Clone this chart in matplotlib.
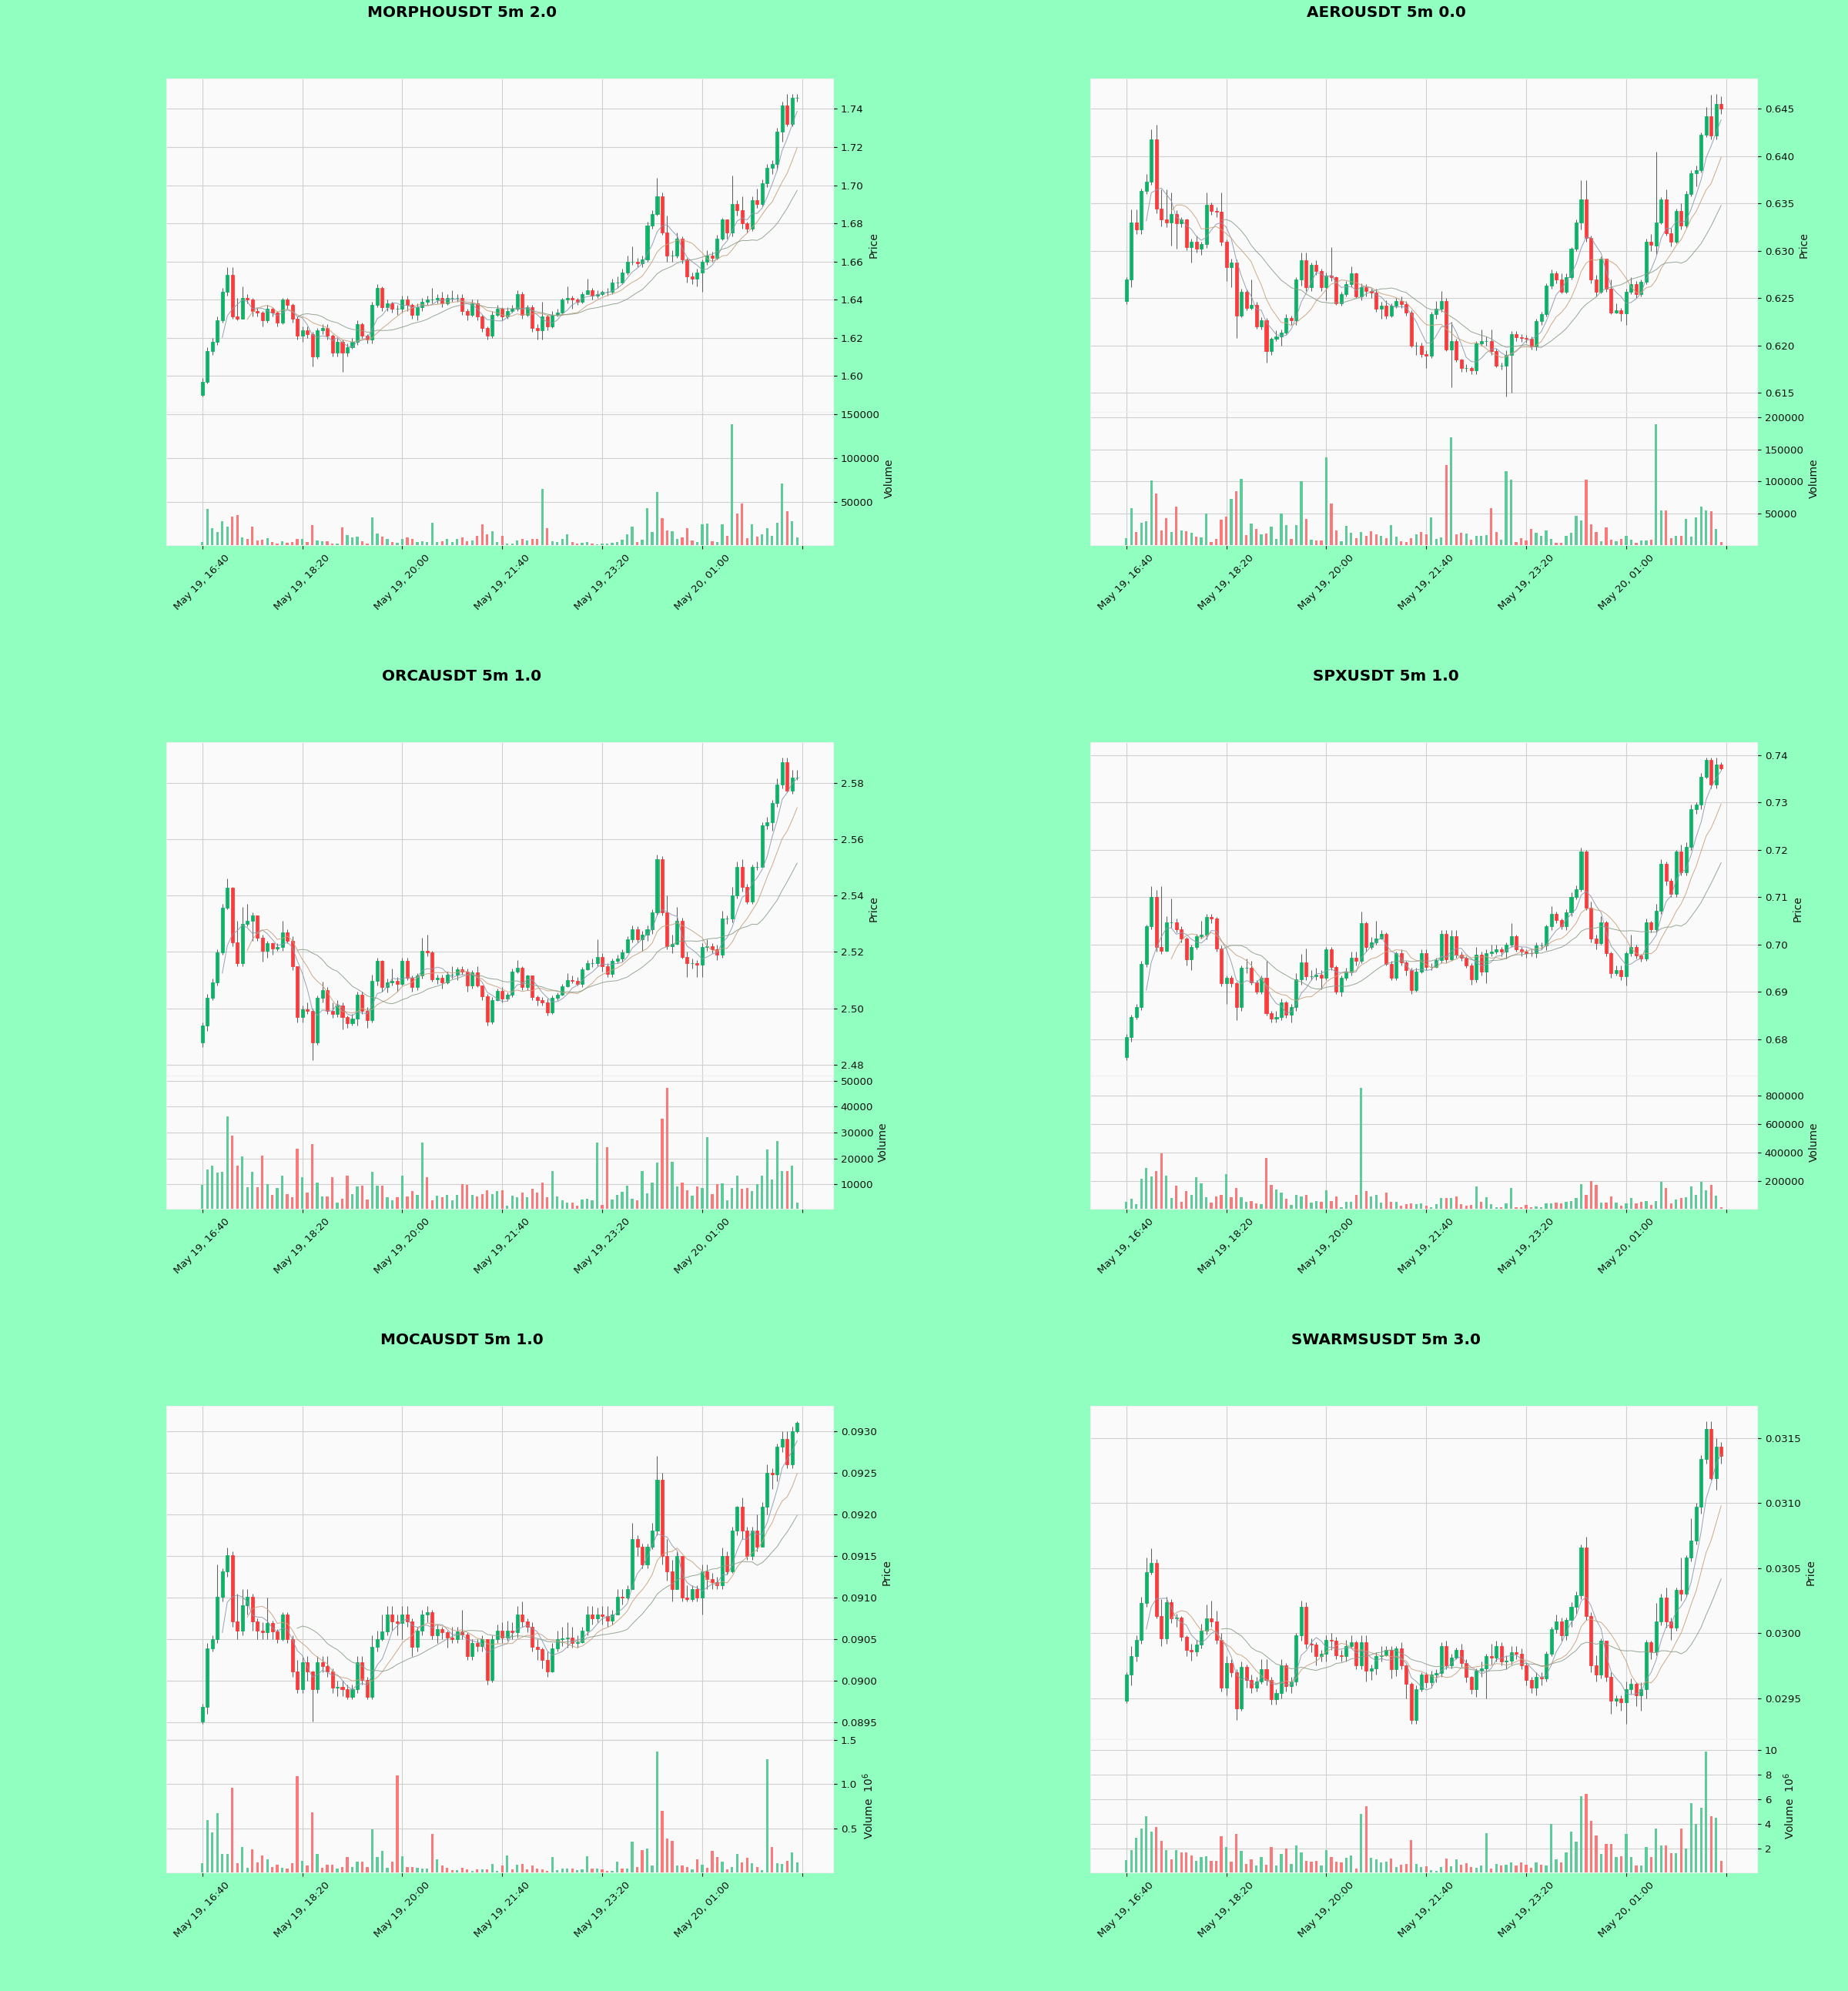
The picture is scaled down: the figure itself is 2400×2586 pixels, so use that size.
import numpy as np
import pandas as pd
import matplotlib
matplotlib.use("Agg")
import matplotlib.pyplot as plt
from matplotlib.ticker import ScalarFormatter

# ---------------- data ----------------
titles = ["MORPHOUSDT 5m 2.0", "AEROUSDT 5m 0.0", "ORCAUSDT 5m 1.0",
          "SPXUSDT 5m 1.0", "MOCAUSDT 5m 1.0", "SWARMSUSDT 5m 3.0"]
times = pd.date_range("2025-05-19 16:40", periods=120, freq="5min")

morph_open0 = 1.590
morph_close = [1.597, 1.613, 1.618, 1.629, 1.644, 1.653, 1.631, 1.630, 1.641, 1.640,
               1.634, 1.633, 1.629, 1.635, 1.633, 1.628, 1.640, 1.637, 1.630, 1.621,
               1.624, 1.622, 1.610, 1.624, 1.625, 1.621, 1.612, 1.618, 1.612, 1.615,
               1.618, 1.627, 1.621, 1.619, 1.637, 1.646, 1.636, 1.638, 1.635, 1.635,
               1.640, 1.637, 1.632, 1.636, 1.639, 1.640, 1.640, 1.641, 1.638, 1.641,
               1.641, 1.641, 1.634, 1.632, 1.638, 1.631, 1.625, 1.621, 1.632, 1.635,
               1.631, 1.634, 1.635, 1.643, 1.632, 1.636, 1.625, 1.624, 1.631, 1.626,
               1.632, 1.633, 1.640, 1.641, 1.640, 1.639, 1.643, 1.645, 1.642, 1.643,
               1.644, 1.644, 1.649, 1.649, 1.654, 1.660, 1.660, 1.659, 1.661, 1.679,
               1.685, 1.694, 1.675, 1.663, 1.663, 1.672, 1.661, 1.652, 1.651, 1.654,
               1.660, 1.663, 1.662, 1.672, 1.682, 1.675, 1.690, 1.687, 1.680, 1.677,
               1.692, 1.690, 1.701, 1.709, 1.711, 1.728, 1.742, 1.732, 1.746, 1.746]
morph_high = [1.599, 1.615, 1.620, 1.631, 1.646, 1.657, 1.657, 1.641, 1.647, 1.643,
              1.641, 1.636, 1.634, 1.637, 1.636, 1.634, 1.641, 1.641, 1.638, 1.631,
              1.626, 1.626, 1.623, 1.625, 1.627, 1.627, 1.622, 1.620, 1.619, 1.617,
              1.620, 1.629, 1.628, 1.622, 1.639, 1.648, 1.647, 1.640, 1.639, 1.637,
              1.642, 1.642, 1.638, 1.638, 1.641, 1.642, 1.646, 1.643, 1.644, 1.643,
              1.645, 1.643, 1.643, 1.635, 1.640, 1.640, 1.632, 1.626, 1.634, 1.637,
              1.636, 1.636, 1.637, 1.645, 1.644, 1.637, 1.637, 1.627, 1.639, 1.632,
              1.634, 1.635, 1.641, 1.647, 1.642, 1.641, 1.644, 1.651, 1.646, 1.645,
              1.645, 1.646, 1.651, 1.652, 1.656, 1.663, 1.668, 1.662, 1.663, 1.681,
              1.687, 1.704, 1.696, 1.684, 1.666, 1.675, 1.673, 1.662, 1.654, 1.656,
              1.661, 1.666, 1.665, 1.674, 1.683, 1.680, 1.705, 1.692, 1.694, 1.681,
              1.694, 1.698, 1.703, 1.711, 1.713, 1.730, 1.744, 1.748, 1.748, 1.748]
morph_low = [1.589, 1.596, 1.611, 1.616, 1.628, 1.642, 1.630, 1.629, 1.630, 1.638,
             1.631, 1.631, 1.626, 1.628, 1.631, 1.626, 1.627, 1.635, 1.628, 1.619,
             1.618, 1.620, 1.605, 1.609, 1.622, 1.619, 1.610, 1.610, 1.602, 1.610,
             1.614, 1.616, 1.620, 1.617, 1.617, 1.636, 1.634, 1.634, 1.633, 1.632,
             1.633, 1.634, 1.630, 1.629, 1.634, 1.637, 1.638, 1.638, 1.636, 1.637,
             1.639, 1.639, 1.632, 1.629, 1.631, 1.629, 1.623, 1.619, 1.620, 1.631,
             1.629, 1.630, 1.633, 1.634, 1.630, 1.631, 1.623, 1.619, 1.619, 1.624,
             1.625, 1.631, 1.632, 1.638, 1.635, 1.637, 1.638, 1.643, 1.640, 1.641,
             1.642, 1.642, 1.643, 1.646, 1.648, 1.653, 1.658, 1.657, 1.657, 1.660,
             1.677, 1.684, 1.674, 1.660, 1.660, 1.662, 1.659, 1.649, 1.648, 1.647,
             1.644, 1.658, 1.660, 1.661, 1.671, 1.672, 1.673, 1.684, 1.677, 1.675,
             1.676, 1.688, 1.689, 1.699, 1.706, 1.708, 1.723, 1.731, 1.731, 1.744]
morph_volume = [4000, 42000, 20000, 15000, 28000, 22000, 33000, 35000, 9000, 7600,
                22000, 6000, 7000, 8000, 4000, 2000, 5000, 3000, 4000, 7600,
                7600, 4000, 23000, 6000, 5000, 5000, 2000, 2000, 21000, 12000,
                9000, 10000, 5000, 2000, 32000, 14000, 10000, 7600, 4000, 3000,
                7600, 9000, 7600, 4000, 5000, 4000, 26000, 4000, 5000, 7600,
                4000, 7600, 9000, 5000, 6000, 11000, 24000, 13000, 16000, 4000,
                11000, 2000, 2000, 6000, 7600, 6000, 7600, 7600, 65000, 20000,
                5000, 4000, 7600, 13000, 4000, 2000, 3000, 4000, 2000, 1500,
                2000, 2000, 3000, 4000, 7000, 13000, 22000, 4000, 7000, 43000,
                15000, 61000, 31000, 17000, 16000, 7600, 9500, 20000, 6000, 4000,
                24000, 25000, 5000, 4000, 24000, 11000, 139000, 37000, 48000, 8700,
                24000, 10500, 13000, 20000, 11000, 26000, 71000, 39000, 28000, 9500]

aero_open0 = 0.6247
aero_close = [0.6270, 0.6330, 0.6323, 0.6363, 0.6373, 0.6418, 0.6345, 0.6333, 0.6330, 0.6339,
              0.6329, 0.6333, 0.6304, 0.6310, 0.6302, 0.6307, 0.6349, 0.6342, 0.6341, 0.6310,
              0.6283, 0.6288, 0.6232, 0.6257, 0.6240, 0.6243, 0.6220, 0.6227, 0.6194, 0.6207,
              0.6210, 0.6214, 0.6229, 0.6227, 0.6270, 0.6290, 0.6262, 0.6285, 0.6279, 0.6262,
              0.6274, 0.6272, 0.6245, 0.6254, 0.6265, 0.6276, 0.6252, 0.6262, 0.6258, 0.6256,
              0.6239, 0.6242, 0.6232, 0.6242, 0.6247, 0.6244, 0.6235, 0.6200, 0.6200, 0.6191,
              0.6189, 0.6233, 0.6239, 0.6247, 0.6196, 0.6205, 0.6185, 0.6176, 0.6176, 0.6174,
              0.6202, 0.6205, 0.6205, 0.6194, 0.6179, 0.6179, 0.6190, 0.6212, 0.6209, 0.6208,
              0.6207, 0.6199, 0.6226, 0.6233, 0.6263, 0.6276, 0.6270, 0.6257, 0.6272, 0.6302,
              0.6330, 0.6354, 0.6314, 0.6270, 0.6257, 0.6292, 0.6260, 0.6235, 0.6237, 0.6234,
              0.6257, 0.6265, 0.6254, 0.6267, 0.6310, 0.6306, 0.6330, 0.6354, 0.6319, 0.6310,
              0.6342, 0.6327, 0.6360, 0.6382, 0.6385, 0.6423, 0.6442, 0.6422, 0.6455, 0.6450]
aero_high = [0.6272, 0.6344, 0.6344, 0.6366, 0.6381, 0.6428, 0.6433, 0.6365, 0.6365, 0.6362,
             0.6343, 0.6336, 0.6334, 0.6313, 0.6316, 0.6310, 0.6362, 0.6351, 0.6346, 0.6362,
             0.6312, 0.6292, 0.6291, 0.6260, 0.6259, 0.6270, 0.6246, 0.6230, 0.6229, 0.6209,
             0.6216, 0.6217, 0.6233, 0.6232, 0.6272, 0.6298, 0.6298, 0.6288, 0.6290, 0.6281,
             0.6277, 0.6304, 0.6273, 0.6257, 0.6268, 0.6284, 0.6277, 0.6266, 0.6265, 0.6260,
             0.6260, 0.6246, 0.6248, 0.6245, 0.6250, 0.6252, 0.6247, 0.6237, 0.6204, 0.6203,
             0.6195, 0.6236, 0.6247, 0.6258, 0.6250, 0.6225, 0.6207, 0.6186, 0.6180, 0.6178,
             0.6205, 0.6217, 0.6210, 0.6217, 0.6197, 0.6182, 0.6195, 0.6215, 0.6215, 0.6212,
             0.6211, 0.6210, 0.6228, 0.6236, 0.6266, 0.6280, 0.6279, 0.6276, 0.6276, 0.6304,
             0.6333, 0.6375, 0.6375, 0.6316, 0.6275, 0.6294, 0.6290, 0.6270, 0.6245, 0.6240,
             0.6260, 0.6272, 0.6268, 0.6270, 0.6313, 0.6318, 0.6405, 0.6357, 0.6365, 0.6324,
             0.6345, 0.6350, 0.6363, 0.6385, 0.6390, 0.6425, 0.6452, 0.6465, 0.6466, 0.6463]
aero_low = [0.6244, 0.6262, 0.6318, 0.6318, 0.6360, 0.6370, 0.6340, 0.6326, 0.6325, 0.6306,
            0.6302, 0.6325, 0.6301, 0.6288, 0.6298, 0.6296, 0.6303, 0.6338, 0.6336, 0.6306,
            0.6268, 0.6262, 0.6208, 0.6230, 0.6237, 0.6238, 0.6218, 0.6217, 0.6182, 0.6190,
            0.6205, 0.6200, 0.6212, 0.6222, 0.6222, 0.6263, 0.6258, 0.6258, 0.6275, 0.6258,
            0.6248, 0.6268, 0.6243, 0.6242, 0.6252, 0.6262, 0.6250, 0.6248, 0.6252, 0.6250,
            0.6236, 0.6228, 0.6228, 0.6230, 0.6240, 0.6240, 0.6232, 0.6198, 0.6190, 0.6188,
            0.6176, 0.6187, 0.6228, 0.6236, 0.6194, 0.6156, 0.6183, 0.6172, 0.6172, 0.6170,
            0.6170, 0.6200, 0.6200, 0.6190, 0.6177, 0.6175, 0.6146, 0.6150, 0.6205, 0.6204,
            0.6203, 0.6196, 0.6195, 0.6222, 0.6231, 0.6260, 0.6266, 0.6255, 0.6255, 0.6270,
            0.6300, 0.6323, 0.6310, 0.6266, 0.6252, 0.6255, 0.6257, 0.6233, 0.6234, 0.6226,
            0.6222, 0.6254, 0.6250, 0.6252, 0.6265, 0.6300, 0.6297, 0.6328, 0.6316, 0.6305,
            0.6308, 0.6323, 0.6324, 0.6358, 0.6368, 0.6383, 0.6420, 0.6418, 0.6418, 0.6445]
aero_volume = [12000, 59000, 22000, 36000, 39000, 102000, 81000, 24000, 43000, 22000,
               61000, 24000, 23000, 20000, 15000, 14000, 51000, 6000, 11000, 41000,
               46000, 73000, 85000, 104000, 17000, 35000, 26000, 18000, 19000, 30000,
               11000, 51000, 33000, 11000, 32000, 100000, 42000, 10000, 9000, 9000,
               138000, 66000, 24000, 7000, 31000, 20000, 12000, 22000, 16000, 23000,
               18000, 16000, 12000, 32000, 15000, 7000, 6000, 12000, 18000, 22000,
               18000, 45000, 11000, 14000, 125000, 168000, 18000, 20000, 19000, 10000,
               16000, 16000, 17000, 59000, 22000, 10000, 116000, 103000, 6000, 12000,
               9000, 26000, 21000, 16000, 24000, 11000, 5000, 5000, 16000, 20000,
               47000, 40000, 103000, 34000, 22000, 7000, 29000, 10000, 7000, 11000,
               16000, 10000, 5000, 9000, 9000, 10000, 189000, 55000, 55000, 12000,
               16000, 16000, 42000, 15000, 45000, 61000, 55000, 54000, 26000, 6000]

orca_open0 = 2.4879
orca_close = [2.4940, 2.5036, 2.5092, 2.5199, 2.5356, 2.5427, 2.5233, 2.5160, 2.5298, 2.5311,
              2.5328, 2.5249, 2.5204, 2.5230, 2.5212, 2.5218, 2.5270, 2.5238, 2.5148, 2.4969,
              2.4997, 2.4991, 2.4879, 2.5036, 2.5064, 2.4991, 2.4980, 2.5010, 2.4969, 2.4946,
              2.4963, 2.5047, 2.4991, 2.4957, 2.5098, 2.5167, 2.5075, 2.5092, 2.5098, 2.5087,
              2.5167, 2.5109, 2.5075, 2.5115, 2.5204, 2.5199, 2.5103, 2.5109, 2.5092, 2.5120,
              2.5120, 2.5137, 2.5131, 2.5081, 2.5126, 2.5081, 2.5042, 2.4952, 2.5030, 2.5062,
              2.5033, 2.5047, 2.5131, 2.5143, 2.5075, 2.5115, 2.5039, 2.5030, 2.5021, 2.4985,
              2.5036, 2.5047, 2.5078, 2.5100, 2.5096, 2.5087, 2.5137, 2.5160, 2.5160, 2.5182,
              2.5148, 2.5122, 2.5167, 2.5176, 2.5199, 2.5244, 2.5280, 2.5244, 2.5261, 2.5280,
              2.5339, 2.5530, 2.5339, 2.5221, 2.5227, 2.5311, 2.5182, 2.5160, 2.5160, 2.5154,
              2.5216, 2.5221, 2.5210, 2.5190, 2.5317, 2.5317, 2.5401, 2.5502, 2.5429, 2.5379,
              2.5502, 2.5502, 2.5648, 2.5660, 2.5727, 2.5794, 2.5873, 2.5772, 2.5819, 2.5819]
orca_high = [2.4950, 2.5050, 2.5105, 2.5210, 2.5370, 2.5460, 2.5430, 2.5310, 2.5360, 2.5370,
             2.5340, 2.5330, 2.5260, 2.5240, 2.5235, 2.5230, 2.5310, 2.5280, 2.5255, 2.5150,
             2.5010, 2.5020, 2.5000, 2.5045, 2.5095, 2.5075, 2.5020, 2.5030, 2.5020, 2.4975,
             2.4980, 2.5060, 2.5060, 2.5005, 2.5120, 2.5180, 2.5170, 2.5105, 2.5140, 2.5110,
             2.5180, 2.5180, 2.5115, 2.5125, 2.5250, 2.5260, 2.5205, 2.5120, 2.5120, 2.5130,
             2.5150, 2.5145, 2.5150, 2.5140, 2.5135, 2.5150, 2.5075, 2.5050, 2.5040, 2.5070,
             2.5075, 2.5055, 2.5140, 2.5170, 2.5150, 2.5120, 2.5110, 2.5045, 2.5040, 2.5035,
             2.5045, 2.5055, 2.5085, 2.5125, 2.5115, 2.5110, 2.5145, 2.5170, 2.5175, 2.5245,
             2.5195, 2.5160, 2.5175, 2.5190, 2.5210, 2.5255, 2.5295, 2.5290, 2.5275, 2.5295,
             2.5350, 2.5545, 2.5540, 2.5400, 2.5260, 2.5360, 2.5320, 2.5200, 2.5175, 2.5170,
             2.5230, 2.5245, 2.5230, 2.5225, 2.5345, 2.5330, 2.5430, 2.5520, 2.5530, 2.5440,
             2.5510, 2.5520, 2.5660, 2.5680, 2.5740, 2.5815, 2.5890, 2.5890, 2.5845, 2.5845]
orca_low = [2.4862, 2.4920, 2.5030, 2.5080, 2.5190, 2.5350, 2.5220, 2.5150, 2.5150, 2.5290,
            2.5240, 2.5240, 2.5165, 2.5180, 2.5190, 2.5205, 2.5205, 2.5230, 2.5135, 2.4950,
            2.4950, 2.4980, 2.4815, 2.4870, 2.5020, 2.4980, 2.4965, 2.4970, 2.4925, 2.4930,
            2.4940, 2.4940, 2.4980, 2.4930, 2.4950, 2.5080, 2.5060, 2.5055, 2.5080, 2.5060,
            2.5080, 2.5100, 2.5060, 2.5065, 2.5105, 2.5185, 2.5095, 2.5085, 2.5070, 2.5085,
            2.5105, 2.5100, 2.5120, 2.5060, 2.5070, 2.5075, 2.5030, 2.4940, 2.4945, 2.5025,
            2.5020, 2.5025, 2.5040, 2.5125, 2.5065, 2.5065, 2.5030, 2.5010, 2.5010, 2.4975,
            2.4980, 2.5030, 2.5045, 2.5075, 2.5090, 2.5080, 2.5075, 2.5135, 2.5145, 2.5150,
            2.5130, 2.5110, 2.5110, 2.5160, 2.5165, 2.5200, 2.5235, 2.5235, 2.5205, 2.5240,
            2.5265, 2.5330, 2.5330, 2.5210, 2.5195, 2.5225, 2.5175, 2.5110, 2.5140, 2.5110,
            2.5110, 2.5205, 2.5195, 2.5170, 2.5180, 2.5300, 2.5305, 2.5390, 2.5415, 2.5370,
            2.5370, 2.5490, 2.5510, 2.5635, 2.5630, 2.5715, 2.5780, 2.5765, 2.5760, 2.5810]
orca_volume = [9800, 15600, 17300, 14400, 14900, 36400, 28700, 17100, 20700, 8800,
               14900, 8800, 21100, 10100, 5900, 8500, 13400, 6100, 5100, 23800,
               12600, 6700, 25400, 10700, 5200, 5200, 12800, 2800, 4500, 13200,
               6300, 9200, 9500, 4000, 14900, 9400, 9400, 4900, 3900, 5100,
               13400, 5200, 7300, 5900, 26200, 12800, 3700, 5500, 5100, 5900,
               3700, 5900, 10000, 9800, 5900, 5200, 6300, 7600, 6300, 7300,
               7600, 1800, 5500, 4900, 6700, 4900, 8200, 6700, 10700, 4900,
               15200, 5200, 3700, 3000, 3000, 1800, 4000, 4500, 3700, 26200,
               2100, 24400, 4000, 5900, 7100, 9400, 4300, 3700, 15200, 6500,
               10700, 18300, 35400, 47300, 18700, 9200, 10600, 7700, 5500, 9200,
               8500, 28100, 6100, 10100, 10400, 3700, 8500, 13400, 8300, 8500,
               7300, 10100, 13400, 23500, 11800, 26600, 15000, 15000, 17300, 2800]

spx_open0 = 0.6762
spx_close = [0.6805, 0.6847, 0.6867, 0.6959, 0.7038, 0.7101, 0.6995, 0.6986, 0.7047, 0.7047,
             0.7032, 0.7012, 0.6969, 0.6995, 0.7018, 0.7020, 0.7058, 0.7055, 0.6992, 0.6918,
             0.6930, 0.6918, 0.6867, 0.6951, 0.6951, 0.6920, 0.6900, 0.6930, 0.6854, 0.6844,
             0.6847, 0.6877, 0.6852, 0.6867, 0.6926, 0.6962, 0.6933, 0.6933, 0.6936, 0.6930,
             0.6989, 0.6953, 0.6900, 0.6930, 0.6943, 0.6972, 0.6966, 0.7045, 0.6995, 0.7005,
             0.7012, 0.7022, 0.6959, 0.6930, 0.6981, 0.6962, 0.6946, 0.6903, 0.6943, 0.6981,
             0.6953, 0.6953, 0.6967, 0.7022, 0.6969, 0.7018, 0.6979, 0.6972, 0.6956, 0.6926,
             0.6979, 0.6943, 0.6981, 0.6984, 0.6989, 0.6984, 0.6999, 0.7018, 0.6989, 0.6984,
             0.6982, 0.6981, 0.6997, 0.6997, 0.7038, 0.7064, 0.7051, 0.7038, 0.7068, 0.7101,
             0.7117, 0.7196, 0.7078, 0.7012, 0.7002, 0.7047, 0.6982, 0.6939, 0.6946, 0.6933,
             0.6981, 0.6995, 0.6976, 0.6970, 0.7047, 0.7032, 0.7071, 0.7170, 0.7134, 0.7107,
             0.7196, 0.7153, 0.7206, 0.7285, 0.7295, 0.7354, 0.7389, 0.7338, 0.7380, 0.7372]
spx_high = [0.6810, 0.6852, 0.6875, 0.6965, 0.7042, 0.7123, 0.7115, 0.7123, 0.7060, 0.7097,
            0.7055, 0.7038, 0.7015, 0.7000, 0.7022, 0.7050, 0.7065, 0.7065, 0.7058, 0.6998,
            0.6935, 0.6935, 0.6922, 0.6955, 0.6970, 0.6965, 0.6925, 0.6935, 0.6965, 0.6860,
            0.6860, 0.6885, 0.6880, 0.6875, 0.6940, 0.6980, 0.6992, 0.6945, 0.6950, 0.6945,
            0.6995, 0.6995, 0.6955, 0.6935, 0.6950, 0.6985, 0.6985, 0.7070, 0.7048, 0.7015,
            0.7050, 0.7030, 0.7025, 0.6965, 0.6985, 0.6990, 0.6965, 0.6950, 0.6950, 0.6990,
            0.6990, 0.6960, 0.6972, 0.7030, 0.7030, 0.7030, 0.7030, 0.6985, 0.6975, 0.6960,
            0.6995, 0.6985, 0.6990, 0.7000, 0.7000, 0.6995, 0.7005, 0.7045, 0.7020, 0.6995,
            0.6990, 0.6990, 0.7005, 0.7005, 0.7042, 0.7080, 0.7070, 0.7055, 0.7075, 0.7110,
            0.7125, 0.7205, 0.7200, 0.7090, 0.7020, 0.7060, 0.7050, 0.6985, 0.6955, 0.6955,
            0.6985, 0.7020, 0.7000, 0.6980, 0.7055, 0.7050, 0.7085, 0.7180, 0.7175, 0.7140,
            0.7200, 0.7210, 0.7215, 0.7295, 0.7300, 0.7362, 0.7395, 0.7395, 0.7395, 0.7385]
spx_low = [0.6755, 0.6795, 0.6842, 0.6862, 0.6952, 0.7032, 0.6985, 0.6980, 0.6985, 0.7035,
           0.7025, 0.7005, 0.6955, 0.6945, 0.6990, 0.7012, 0.7010, 0.7045, 0.6985, 0.6912,
           0.6875, 0.6910, 0.6840, 0.6860, 0.6940, 0.6915, 0.6895, 0.6895, 0.6850, 0.6835,
           0.6835, 0.6840, 0.6845, 0.6835, 0.6860, 0.6915, 0.6925, 0.6925, 0.6925, 0.6905,
           0.6925, 0.6945, 0.6895, 0.6890, 0.6925, 0.6935, 0.6955, 0.6960, 0.6985, 0.6990,
           0.7000, 0.7010, 0.6955, 0.6925, 0.6925, 0.6955, 0.6935, 0.6895, 0.6900, 0.6940,
           0.6945, 0.6945, 0.6950, 0.6960, 0.6962, 0.6965, 0.6972, 0.6965, 0.6950, 0.6915,
           0.6920, 0.6935, 0.6918, 0.6975, 0.6980, 0.6975, 0.6970, 0.6995, 0.6985, 0.6975,
           0.6972, 0.6975, 0.6972, 0.6990, 0.6988, 0.7030, 0.7045, 0.7032, 0.7030, 0.7060,
           0.7095, 0.7112, 0.7072, 0.7005, 0.6990, 0.7000, 0.6975, 0.6930, 0.6935, 0.6925,
           0.6913, 0.6975, 0.6970, 0.6963, 0.6965, 0.7025, 0.7025, 0.7065, 0.7125, 0.7100,
           0.7100, 0.7145, 0.7145, 0.7200, 0.7275, 0.7285, 0.7350, 0.7330, 0.7330, 0.7368]
spx_volume = [53000, 75000, 38000, 215000, 293000, 231000, 271000, 393000, 238000, 78000,
              167000, 53000, 127000, 100000, 227000, 182000, 87000, 49000, 89000, 100000,
              249000, 87000, 153000, 87000, 53000, 60000, 44000, 38000, 360000, 171000,
              138000, 116000, 75000, 33000, 104000, 93000, 100000, 49000, 60000, 56000,
              133000, 60000, 89000, 16000, 56000, 56000, 104000, 855000, 127000, 89000,
              100000, 49000, 116000, 56000, 53000, 27000, 38000, 44000, 38000, 44000,
              27000, 16000, 38000, 78000, 82000, 82000, 89000, 38000, 27000, 31000,
              164000, 56000, 87000, 38000, 16000, 16000, 44000, 153000, 16000, 16000,
              33000, 16000, 22000, 16000, 44000, 44000, 49000, 44000, 53000, 60000,
              82000, 176000, 104000, 198000, 171000, 49000, 49000, 89000, 49000, 27000,
              44000, 82000, 44000, 53000, 60000, 31000, 60000, 193000, 149000, 44000,
              71000, 82000, 87000, 164000, 104000, 193000, 133000, 171000, 98000, 16000]

moca_open0 = 0.08951
moca_close = [0.08969, 0.09039, 0.09050, 0.09101, 0.09131, 0.09151, 0.09071, 0.09060, 0.09091, 0.09101,
              0.09071, 0.09060, 0.09058, 0.09069, 0.09059, 0.09050, 0.09080, 0.09050, 0.09011, 0.08990,
              0.09022, 0.09011, 0.08990, 0.09022, 0.09018, 0.09011, 0.08992, 0.08993, 0.08990, 0.08981,
              0.08990, 0.09022, 0.09001, 0.08981, 0.09041, 0.09050, 0.09059, 0.09080, 0.09071, 0.09069,
              0.09080, 0.09071, 0.09041, 0.09060, 0.09080, 0.09082, 0.09055, 0.09062, 0.09058, 0.09052,
              0.09050, 0.09059, 0.09056, 0.09030, 0.09045, 0.09042, 0.09050, 0.09001, 0.09050, 0.09060,
              0.09052, 0.09060, 0.09058, 0.09080, 0.09071, 0.09065, 0.09041, 0.09038, 0.09025, 0.09011,
              0.09039, 0.09050, 0.09051, 0.09052, 0.09045, 0.09046, 0.09060, 0.09080, 0.09075, 0.09080,
              0.09078, 0.09072, 0.09080, 0.09101, 0.09100, 0.09110, 0.09170, 0.09161, 0.09140, 0.09161,
              0.09180, 0.09241, 0.09150, 0.09131, 0.09110, 0.09150, 0.09100, 0.09098, 0.09110, 0.09100,
              0.09131, 0.09122, 0.09118, 0.09115, 0.09150, 0.09131, 0.09180, 0.09209, 0.09180, 0.09150,
              0.09180, 0.09161, 0.09209, 0.09250, 0.09248, 0.09281, 0.09290, 0.09260, 0.09300, 0.09310]
moca_high = [0.08972, 0.09045, 0.09055, 0.09140, 0.09135, 0.09160, 0.09155, 0.09105, 0.09110, 0.09110,
             0.09105, 0.09075, 0.09070, 0.09100, 0.09072, 0.09062, 0.09082, 0.09082, 0.09055, 0.09025,
             0.09030, 0.09030, 0.09012, 0.09030, 0.09030, 0.09030, 0.09015, 0.09000, 0.09000, 0.08995,
             0.08995, 0.09030, 0.09030, 0.09005, 0.09055, 0.09060, 0.09080, 0.09090, 0.09090, 0.09080,
             0.09090, 0.09090, 0.09075, 0.09065, 0.09085, 0.09090, 0.09085, 0.09068, 0.09065, 0.09060,
             0.09065, 0.09065, 0.09085, 0.09058, 0.09050, 0.09050, 0.09055, 0.09050, 0.09055, 0.09068,
             0.09070, 0.09072, 0.09070, 0.09090, 0.09095, 0.09075, 0.09070, 0.09050, 0.09040, 0.09035,
             0.09045, 0.09060, 0.09065, 0.09070, 0.09065, 0.09055, 0.09065, 0.09090, 0.09090, 0.09088,
             0.09090, 0.09090, 0.09085, 0.09110, 0.09110, 0.09115, 0.09190, 0.09175, 0.09165, 0.09165,
             0.09190, 0.09270, 0.09250, 0.09170, 0.09145, 0.09155, 0.09150, 0.09115, 0.09115, 0.09115,
             0.09140, 0.09140, 0.09130, 0.09125, 0.09160, 0.09155, 0.09185, 0.09210, 0.09220, 0.09185,
             0.09185, 0.09200, 0.09215, 0.09260, 0.09255, 0.09285, 0.09300, 0.09300, 0.09305, 0.09312]
moca_low = [0.08948, 0.08960, 0.09035, 0.09045, 0.09095, 0.09125, 0.09065, 0.09050, 0.09055, 0.09080,
            0.09060, 0.09050, 0.09050, 0.09050, 0.09050, 0.09045, 0.09048, 0.09045, 0.09005, 0.08985,
            0.08985, 0.09000, 0.08951, 0.08985, 0.09010, 0.09005, 0.08985, 0.08982, 0.08982, 0.08978,
            0.08978, 0.08985, 0.08995, 0.08978, 0.08978, 0.09035, 0.09048, 0.09055, 0.09060, 0.09055,
            0.09050, 0.09065, 0.09030, 0.09035, 0.09055, 0.09070, 0.09050, 0.09045, 0.09050, 0.09040,
            0.09045, 0.09045, 0.09050, 0.09025, 0.09025, 0.09035, 0.09035, 0.08995, 0.08998, 0.09045,
            0.09045, 0.09048, 0.09050, 0.09052, 0.09065, 0.09058, 0.09035, 0.09025, 0.09015, 0.09005,
            0.09010, 0.09035, 0.09042, 0.09040, 0.09040, 0.09040, 0.09045, 0.09055, 0.09068, 0.09070,
            0.09068, 0.09065, 0.09068, 0.09080, 0.09092, 0.09098, 0.09110, 0.09150, 0.09135, 0.09135,
            0.09158, 0.09175, 0.09140, 0.09120, 0.09095, 0.09110, 0.09095, 0.09095, 0.09095, 0.09095,
            0.09080, 0.09110, 0.09110, 0.09110, 0.09110, 0.09128, 0.09130, 0.09175, 0.09170, 0.09145,
            0.09145, 0.09155, 0.09165, 0.09200, 0.09230, 0.09240, 0.09275, 0.09255, 0.09255, 0.09298]
moca_volume = [110000, 600000, 460000, 670000, 210000, 210000, 960000, 110000, 290000, 60000,
               270000, 120000, 200000, 150000, 70000, 90000, 60000, 50000, 110000, 1090000,
               140000, 80000, 680000, 210000, 60000, 90000, 90000, 50000, 70000, 180000,
               70000, 125000, 125000, 70000, 490000, 180000, 250000, 60000, 130000, 1100000,
               190000, 70000, 70000, 60000, 50000, 50000, 440000, 150000, 80000, 60000,
               30000, 30000, 60000, 40000, 20000, 40000, 40000, 40000, 100000, 20000,
               80000, 200000, 40000, 90000, 100000, 40000, 80000, 50000, 40000, 20000,
               180000, 30000, 50000, 50000, 50000, 30000, 40000, 190000, 50000, 50000,
               40000, 20000, 20000, 125000, 50000, 50000, 350000, 70000, 260000, 275000,
               80000, 1370000, 700000, 390000, 360000, 80000, 80000, 70000, 40000, 150000,
               90000, 60000, 250000, 180000, 125000, 40000, 70000, 210000, 120000, 170000,
               110000, 70000, 30000, 1280000, 290000, 110000, 100000, 140000, 230000, 120000]

swarms_open0 = 0.02948
swarms_close = [0.02968, 0.02982, 0.02995, 0.03023, 0.03047, 0.03054, 0.03013, 0.02996, 0.03024, 0.03011,
                0.03012, 0.02997, 0.02987, 0.02986, 0.02991, 0.03002, 0.03011, 0.03009, 0.02995, 0.02958,
                0.02977, 0.02970, 0.02942, 0.02974, 0.02964, 0.02958, 0.02963, 0.02972, 0.02964, 0.02949,
                0.02954, 0.02975, 0.02959, 0.02963, 0.02998, 0.03020, 0.02992, 0.02991, 0.02982, 0.02984,
                0.02995, 0.02994, 0.02983, 0.02982, 0.02990, 0.02993, 0.02975, 0.02993, 0.02971, 0.02973,
                0.02982, 0.02983, 0.02987, 0.02972, 0.02988, 0.02975, 0.02961, 0.02933, 0.02957, 0.02968,
                0.02962, 0.02968, 0.02969, 0.02990, 0.02975, 0.02981, 0.02987, 0.02977, 0.02966, 0.02957,
                0.02971, 0.02973, 0.02982, 0.02981, 0.02990, 0.02978, 0.02979, 0.02985, 0.02984, 0.02975,
                0.02964, 0.02958, 0.02966, 0.02965, 0.02984, 0.03003, 0.03009, 0.02998, 0.03010, 0.03020,
                0.03029, 0.03066, 0.03013, 0.02975, 0.02968, 0.02994, 0.02966, 0.02948, 0.02950, 0.02947,
                0.02957, 0.02961, 0.02952, 0.02957, 0.02993, 0.02986, 0.03009, 0.03027, 0.03009, 0.03004,
                0.03033, 0.03030, 0.03058, 0.03071, 0.03097, 0.03134, 0.03157, 0.03119, 0.03143, 0.03136]
swarms_high = [0.02970, 0.02990, 0.02998, 0.03028, 0.03058, 0.03065, 0.03057, 0.03026, 0.03028, 0.03026,
               0.03015, 0.03013, 0.02998, 0.02992, 0.02995, 0.03007, 0.03022, 0.03025, 0.03017, 0.03000,
               0.02982, 0.02980, 0.02972, 0.02978, 0.02976, 0.02968, 0.02966, 0.02980, 0.02980, 0.02966,
               0.02957, 0.02980, 0.02977, 0.02966, 0.03000, 0.03025, 0.03024, 0.02996, 0.02993, 0.02987,
               0.02998, 0.03000, 0.02997, 0.02987, 0.02995, 0.02998, 0.02994, 0.02998, 0.02998, 0.02976,
               0.02985, 0.02990, 0.02990, 0.02990, 0.02990, 0.02993, 0.02976, 0.02962, 0.02960, 0.02970,
               0.02970, 0.02971, 0.02972, 0.02993, 0.02994, 0.02984, 0.02989, 0.02992, 0.02980, 0.02967,
               0.02973, 0.02978, 0.02984, 0.02992, 0.02994, 0.02993, 0.02983, 0.02990, 0.02990, 0.02988,
               0.02977, 0.02966, 0.02970, 0.02970, 0.02986, 0.03005, 0.03014, 0.03012, 0.03012, 0.03024,
               0.03032, 0.03068, 0.03074, 0.03016, 0.02983, 0.02996, 0.02994, 0.02970, 0.02952, 0.02952,
               0.02963, 0.02965, 0.02962, 0.02962, 0.02995, 0.02994, 0.03023, 0.03030, 0.03035, 0.03012,
               0.03035, 0.03058, 0.03060, 0.03088, 0.03100, 0.03137, 0.03163, 0.03163, 0.03150, 0.03147]
swarms_low = [0.02946, 0.02960, 0.02978, 0.02992, 0.03020, 0.03045, 0.03011, 0.02990, 0.02992, 0.03008,
              0.03005, 0.02994, 0.02982, 0.02979, 0.02982, 0.02988, 0.02999, 0.03005, 0.02992, 0.02955,
              0.02952, 0.02966, 0.02933, 0.02940, 0.02958, 0.02954, 0.02955, 0.02961, 0.02960, 0.02945,
              0.02945, 0.02950, 0.02955, 0.02954, 0.02960, 0.02994, 0.02988, 0.02985, 0.02975, 0.02978,
              0.02978, 0.02987, 0.02980, 0.02978, 0.02978, 0.02988, 0.02972, 0.02972, 0.02963, 0.02964,
              0.02968, 0.02978, 0.02982, 0.02965, 0.02967, 0.02972, 0.02950, 0.02930, 0.02930, 0.02955,
              0.02958, 0.02958, 0.02962, 0.02966, 0.02972, 0.02973, 0.02980, 0.02974, 0.02962, 0.02953,
              0.02951, 0.02966, 0.02950, 0.02976, 0.02978, 0.02975, 0.02972, 0.02976, 0.02980, 0.02972,
              0.02960, 0.02954, 0.02952, 0.02960, 0.02963, 0.02982, 0.03000, 0.02994, 0.02995, 0.03005,
              0.03015, 0.03026, 0.03010, 0.02970, 0.02963, 0.02965, 0.02963, 0.02938, 0.02944, 0.02940,
              0.02930, 0.02953, 0.02944, 0.02940, 0.02950, 0.02980, 0.02983, 0.03006, 0.03004, 0.02995,
              0.03002, 0.03025, 0.03028, 0.03055, 0.03068, 0.03092, 0.03130, 0.03118, 0.03110, 0.03130]
swarms_volume = [1050000, 1830000, 2850000, 3620000, 4580000, 3370000, 3750000, 2600000, 1830000, 1100000,
                 1830000, 1700000, 1700000, 1440000, 980000, 1310000, 1360000, 1000000, 1000000, 2980000,
                 2080000, 930000, 3190000, 1770000, 720000, 1100000, 620000, 1310000, 670000, 2080000,
                 620000, 1520000, 2000000, 750000, 2210000, 1700000, 1000000, 930000, 980000, 620000,
                 1830000, 1310000, 930000, 870000, 1260000, 1440000, 330000, 4780000, 5420000, 1260000,
                 1130000, 850000, 930000, 1180000, 490000, 670000, 750000, 2650000, 750000, 490000,
                 540000, 230000, 150000, 460000, 1180000, 540000, 1100000, 670000, 800000, 460000,
                 410000, 620000, 3240000, 330000, 750000, 620000, 670000, 870000, 620000, 850000,
                 670000, 410000, 870000, 670000, 620000, 4010000, 1100000, 850000, 1700000, 3370000,
                 2520000, 6250000, 6450000, 4220000, 3030000, 1570000, 2340000, 2340000, 1310000, 1360000,
                 3160000, 1310000, 620000, 620000, 2080000, 1310000, 3620000, 2210000, 2210000, 1620000,
                 1620000, 3620000, 2000000, 5680000, 4010000, 5300000, 9870000, 4600000, 4470000, 980000]

mav_periods = [5, 10, 20]

# ---------------- style ----------------
BG = "#90ffc0"
FACE = "#fafafa"
GRID = "#d0d0d0"
UP, DOWN = "#00b060", "#fe3032"
VUP, VDOWN = "#4dc790", "#fd6b6c"
WICK = "#606060"
TXT = "#101010"
MAV_COLORS = ["#8c98ac", "#c8a07c", "#8a9e8a"]
FS = 9.6

W, H = 2400, 2586
fig = plt.figure(figsize=(W / 100, H / 100), dpi=100, facecolor=BG)

date_labels = [t.strftime("%b %d, %H:%M") for t in times]


def draw_panel(row, col, title, open0, close, high, low, volume):
    close = np.asarray(close, float)
    opens = np.concatenate([[open0], close[:-1]])
    high = np.maximum(np.asarray(high, float), np.maximum(opens, close))
    low = np.minimum(np.asarray(low, float), np.minimum(opens, close))
    volume = np.asarray(volume, float)
    x = np.arange(len(close))
    up = close >= opens

    cx, cy = col * 1200, row * 862
    left = (cx + 216) / W
    width = 866 / W
    top = cy + 102
    ax = fig.add_axes([left, 1 - (top + 433) / H, width, 433 / H])
    axv = fig.add_axes([left, 1 - (top + 606) / H, width, 173 / H], sharex=ax)

    for a in (ax, axv):
        a.set_facecolor(FACE)
        a.grid(True, color=GRID, linewidth=0.8)
        a.set_axisbelow(True)
        for s in a.spines.values():
            s.set_color("#f0f0f0")
        a.yaxis.tick_right()
        a.yaxis.set_label_position("right")
        a.tick_params(colors=TXT, labelsize=FS)

    # candles
    cols = np.where(up, UP, DOWN)
    ax.vlines(x, low, high, color=WICK, linewidth=0.75, zorder=2)
    ax.bar(x, close - opens, bottom=opens, width=0.62, color=cols,
           edgecolor=cols, linewidth=0.6, alpha=0.9, zorder=3)
    s = pd.Series(close)
    for n, c in zip(mav_periods, MAV_COLORS):
        ax.plot(x, s.rolling(n).mean(), color=c, linewidth=0.7, alpha=0.9, zorder=4)

    r = high.max() - low.min()
    ax.set_ylim(low.min() - 0.05 * r, high.max() + 0.05 * r)
    ax.set_ylabel("Price", fontsize=10, color=TXT)
    ax.tick_params(axis="x", length=0, labelbottom=False)

    # volume
    vcols = np.where(up, VUP, VDOWN)
    axv.bar(x, volume, width=0.5, color=vcols, alpha=0.9, zorder=3)
    axv.set_ylim(0.3 * volume.min(), 1.1 * volume.max())
    label = "Volume"
    if volume.max() >= 1e6:
        fmt = ScalarFormatter()
        fmt.set_powerlimits((6, 6))
        axv.yaxis.set_major_formatter(fmt)
        axv.yaxis.offsetText.set_visible(False)
        label = "Volume  $10^{6}$"
    axv.set_ylabel(label, fontsize=10, color=TXT)

    ticks = list(range(0, 121, 20))
    axv.set_xticks(ticks)
    axv.set_xticklabels([date_labels[t] if t < len(close) else "" for t in ticks],
                        rotation=45, fontsize=FS)
    axv.set_xlim(-7.2, 126.2)

    fig.text((cx + 600) / W, 1 - (cy + 16) / H, title, ha="center", va="center",
             fontsize=14.4, fontweight="bold", color="black")


panels = [
    (morph_open0, morph_close, morph_high, morph_low, morph_volume),
    (aero_open0, aero_close, aero_high, aero_low, aero_volume),
    (orca_open0, orca_close, orca_high, orca_low, orca_volume),
    (spx_open0, spx_close, spx_high, spx_low, spx_volume),
    (moca_open0, moca_close, moca_high, moca_low, moca_volume),
    (swarms_open0, swarms_close, swarms_high, swarms_low, swarms_volume),
]

for k, p in enumerate(panels):
    draw_panel(k // 2, k % 2, titles[k], *p)

fig.savefig("out.png", dpi=100, facecolor=BG)
